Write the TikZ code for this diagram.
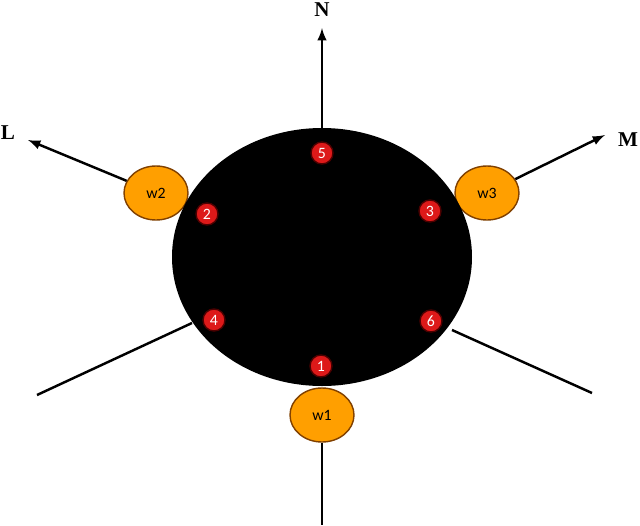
\documentclass[tikz,border=0pt]{standalone}
\usepackage{fontspec}
\setmainfont{Liberation Serif}
\newfontfamily\calfont{Carlito}
\usetikzlibrary{shapes.geometric}
\begin{document}
\begin{tikzpicture}[x=0.02cm,y=-0.02cm,
 redc/.style={circle,fill=red!85!black!90,draw=black!70!red,line width=0.8pt,minimum size=22*0.02cm,inner sep=0pt,text=white,font=\calfont\small},
 yel/.style={ellipse,fill=orange!75!yellow,draw=orange!50!black,line width=0.8pt,minimum width=64*0.02cm,minimum height=54*0.02cm,inner sep=0pt,font=\calfont\small},
 lab/.style={font=\bfseries\large},
 arr/.style={line width=1.4pt,-latex},
 ln/.style={line width=1.4pt}]
\useasboundingbox (0,0) rectangle (640,525);
\coordinate (nA) at (322,28); \coordinate (lA) at (28,140); \coordinate (mA) at (605,135);
\coordinate (e1) at (37,395); \coordinate (e2) at (592,393); \coordinate (e3) at (322,525);
\node[yel] (w2) at (156,193) {w2};
\node[yel] (w3) at (487,193) {w3};
\node[yel] (w1) at (322,415) {w1};
\draw[ln] (192,323) -- (e1);
\draw[ln] (452,330) -- (e2);
\draw[ln] (w1) -- (e3);
\draw[arr] (w2) -- (lA);
\draw[arr] (w3) -- (mA);
\draw[arr] (322,140) -- (nA);
\node[ellipse,fill=black,minimum width=300*0.02cm,minimum height=258*0.02cm] (body) at (322,257) {};
\node[redc] (r5) at (322,153) {5};
\node[redc] (r2) at (207,214) {2};
\node[redc] (r3) at (430,211) {3};
\node[redc] (r4) at (214,320) {4};
\node[redc] (r6) at (431,321) {6};
\node[redc] (r1) at (321,366) {1};
\node[lab] (N) at (322,10) {N};
\node[lab] (L) at (8,133) {L};
\node[lab] (M) at (628,140) {M};
\end{tikzpicture}
\end{document}
